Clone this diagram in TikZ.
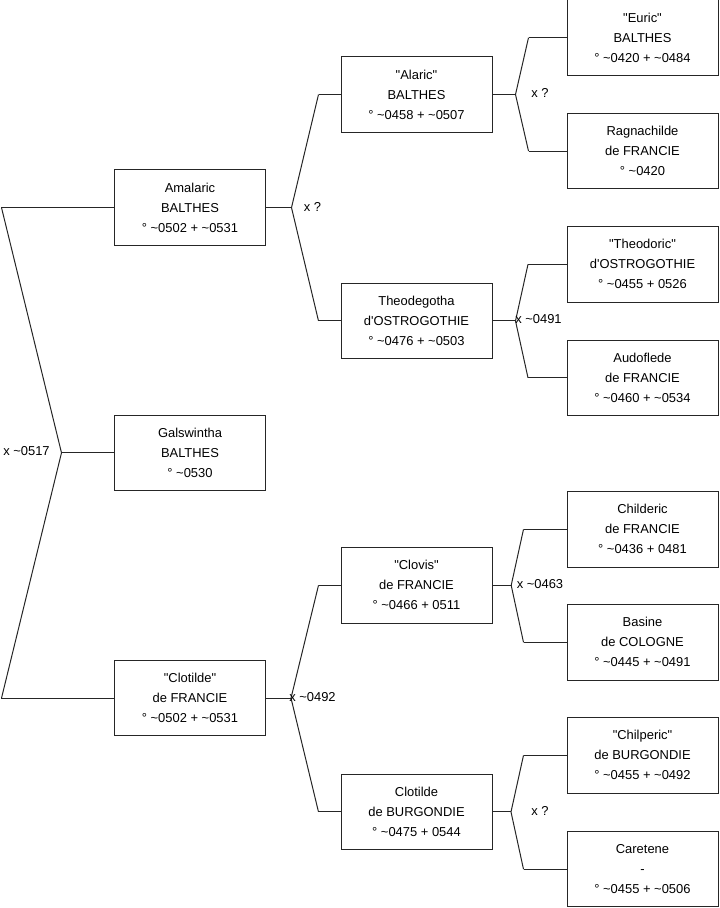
\documentclass[tikz,border=0pt]{standalone}
\usepackage{fontspec}
\setmainfont{Liberation Sans}
\usetikzlibrary{calc}
\newcommand\tld{\textasciitilde}
\newcommand\qq[1]{\textquotedbl#1\textquotedbl}
\begin{document}
\begin{tikzpicture}[x=0.75pt,y=-0.75pt,
  person/.style={draw=black!85, line width=0.75pt, minimum width=113.25pt, minimum height=56.6pt, inner sep=0pt, align=center, font=\fontsize{9.7pt}{15pt}\selectfont},
  link/.style={draw=black!85, line width=0.75pt},
  lbl/.style={anchor=west, inner sep=0pt, font=\fontsize{9.7pt}{11pt}\selectfont}]
\useasboundingbox (0,0) rectangle (719,908);

% column 1
\node[person] (amalaric) at (190,207.6) {Amalaric\\BALTHES\\° \tld0502 + \tld0531};
\node[person] (galswintha) at (190,452.8) {Galswintha\\BALTHES\\° \tld0530};
\node[person] (clotilde) at (190,698.1) {\qq{Clotilde}\\de FRANCIE\\° \tld0502 + \tld0531};
% column 2
\node[person] (alaric) at (416.5,94.5) {\qq{Alaric}\\BALTHES\\° \tld0458 + \tld0507};
\node[person] (theodegotha) at (416.5,320.9) {Theodegotha\\d\textquotesingle OSTROGOTHIE\\° \tld0476 + \tld0503};
\node[person] (clovis) at (416.5,585.3) {\qq{Clovis}\\de FRANCIE\\° \tld0466 + 0511};
\node[person] (clotildeb) at (416.5,811.9) {Clotilde\\de BURGONDIE\\° \tld0475 + 0544};
% column 3
\node[person] (euric) at (642.5,37.7) {\qq{Euric}\\BALTHES\\° \tld0420 + \tld0484};
\node[person] (ragnachilde) at (642.5,151) {Ragnachilde\\de FRANCIE\\° \tld0420};
\node[person] (theodoric) at (642.5,264.3) {\qq{Theodoric}\\d\textquotesingle OSTROGOTHIE\\° \tld0455 + 0526};
\node[person] (audoflede) at (642.5,377.8) {Audoflede\\de FRANCIE\\° \tld0460 + \tld0534};
\node[person] (childeric) at (642.5,529.3) {Childeric\\de FRANCIE\\° \tld0436 + 0481};
\node[person] (basine) at (642.5,642.3) {Basine\\de COLOGNE\\° \tld0445 + \tld0491};
\node[person] (chilperic) at (642.5,755.3) {\qq{Chilperic}\\de BURGONDIE\\° \tld0455 + \tld0492};
\node[person] (caretene) at (642.5,869.2) {Caretene\\-\\° \tld0455 + \tld0506};

% left couple
\coordinate (lft) at (1.5,0);
\coordinate (b0) at ($(galswintha.west)+(-52.5,0)$);
\draw[link] (lft |- amalaric.west) -- (amalaric.west);
\draw[link] (lft |- clotilde.west) -- (clotilde.west);
\draw[link] (lft |- amalaric.west) -- (b0) -- (lft |- clotilde.west);
\draw[link] (b0) -- (galswintha.west);

% column 1 -> 2
\coordinate (b1) at ($(amalaric.east)+(25.5,0)$);
\draw[link] (amalaric.east) -- (b1);
\draw[link] ($(alaric.west)+(-22,0)$) -- (b1) -- ($(theodegotha.west)+(-22,0)$);
\draw[link] ($(alaric.west)+(-22,0)$) -- (alaric.west);
\draw[link] ($(theodegotha.west)+(-22,0)$) -- (theodegotha.west);

\coordinate (b2) at ($(clotilde.east)+(25,0)$);
\draw[link] (clotilde.east) -- (b2);
\draw[link] ($(clovis.west)+(-22,0)$) -- (b2) -- ($(clotildeb.west)+(-22,0)$);
\draw[link] ($(clovis.west)+(-22,0)$) -- (clovis.west);
\draw[link] ($(clotildeb.west)+(-22,0)$) -- (clotildeb.west);

% column 2 -> 3
\coordinate (b3) at ($(alaric.east)+(23,0)$);
\draw[link] (alaric.east) -- (b3);
\draw[link] ($(euric.west)+(-38,0)$) -- (b3) -- ($(ragnachilde.west)+(-38,0)$);
\draw[link] ($(euric.west)+(-38,0)$) -- (euric.west);
\draw[link] ($(ragnachilde.west)+(-38,0)$) -- (ragnachilde.west);

\coordinate (b4) at ($(theodegotha.east)+(23,0)$);
\draw[link] (theodegotha.east) -- (b4);
\draw[link] ($(theodoric.west)+(-38.5,0)$) -- (b4) -- ($(audoflede.west)+(-38.5,0)$);
\draw[link] ($(theodoric.west)+(-38.5,0)$) -- (theodoric.west);
\draw[link] ($(audoflede.west)+(-38.5,0)$) -- (audoflede.west);

\coordinate (b5) at ($(clovis.east)+(18.7,0)$);
\draw[link] (clovis.east) -- (b5);
\draw[link] ($(childeric.west)+(-43,0)$) -- (b5) -- ($(basine.west)+(-43,0)$);
\draw[link] ($(childeric.west)+(-43,0)$) -- (childeric.west);
\draw[link] ($(basine.west)+(-43,0)$) -- (basine.west);

\coordinate (b6) at ($(clotildeb.east)+(18.5,0)$);
\draw[link] (clotildeb.east) -- (b6);
\draw[link] ($(chilperic.west)+(-43,0)$) -- (b6) -- ($(caretene.west)+(-43,0)$);
\draw[link] ($(chilperic.west)+(-43,0)$) -- (chilperic.west);
\draw[link] ($(caretene.west)+(-43,0)$) -- (caretene.west);

% marriage labels
\node[lbl] (m0) at (3,451.5) {x \tld0517};
\node[lbl] (m1) at (303.5,207) {x ?};
\node[lbl] (m2) at (289,697) {x \tld0492};
\node[lbl] (m3) at (531,93) {x ?};
\node[lbl] (m4) at (515,319.5) {x \tld0491};
\node[lbl] (m5) at (516.5,584.5) {x \tld0463};
\node[lbl] (m6) at (531,810.5) {x ?};
\end{tikzpicture}
\end{document}
